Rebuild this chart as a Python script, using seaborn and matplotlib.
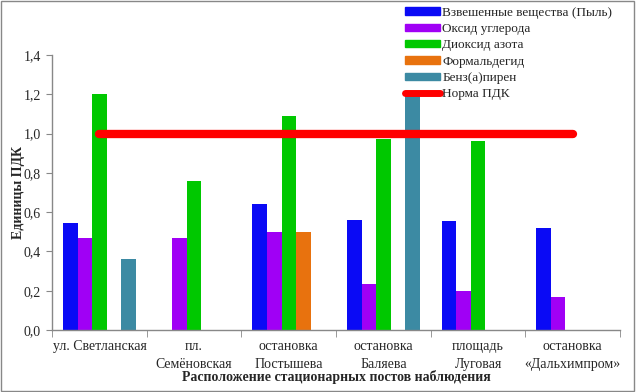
import numpy as np
import pandas as pd
import matplotlib
matplotlib.use("Agg")
import matplotlib.pyplot as plt
import seaborn as sns
from matplotlib.lines import Line2D
from matplotlib.patches import Rectangle

# data
stations = ["ул. Светланская", "пл.\nСемёновская", "остановка\nПостышева",
            "остановка\nБаляева", "площадь\nЛуговая", "остановка\n«Дальхимпром»"]
pollutants = ["Взвешенные вещества (Пыль)", "Оксид углерода", "Диоксид азота",
              "Формальдегид", "Бенз(а)пирен"]
dust = [0.545, np.nan, 0.64, 0.56, 0.555, 0.52]
co = [0.47, 0.47, 0.50, 0.235, 0.20, 0.17]
no2 = [1.20, 0.76, 1.09, 0.97, 0.96, np.nan]
formaldehyde = [np.nan, np.nan, 0.50, np.nan, np.nan, np.nan]
benzapyrene = [0.36, np.nan, np.nan, 1.21, np.nan, np.nan]
norm_pdk = [1.0] * len(stations)

colors = ["#0a0af5", "#a000f5", "#00c800", "#e8720e", "#3c8aa3"]

rows = []
for name, vals in zip(pollutants, [dust, co, no2, formaldehyde, benzapyrene]):
    for st, v in zip(stations, vals):
        rows.append({"station": st, "pollutant": name, "value": v})
df = pd.DataFrame(rows)

sns.set_style("white")
plt.rcParams["font.family"] = ["Liberation Serif", "DejaVu Serif"]

fig = plt.figure(figsize=(6.36, 3.92), dpi=100)
ax = fig.add_axes([0.082, 0.158, 0.893, 0.702])

sns.barplot(data=df, x="station", y="value", hue="pollutant", order=stations,
            hue_order=pollutants, palette=colors, width=0.77, errorbar=None,
            saturation=1, edgecolor="none", legend=False, ax=ax)

# norm line
ax.plot(range(len(stations)), norm_pdk, color="#ff0000", lw=6,
        solid_capstyle="round", zorder=5)

ax.set_xlim(-0.5, len(stations) - 0.5)
ax.set_ylim(0, 1.4)
ax.set_yticks(np.arange(0, 1.41, 0.2))
ax.set_yticklabels([f"{t:.1f}".replace(".", ",") for t in np.arange(0, 1.41, 0.2)],
                   fontsize=10)
ax.set_xticks(range(len(stations)))
ax.set_xticklabels(stations, fontsize=10, va="top", linespacing=1.55)
ax.set_xticks(np.arange(-0.5, len(stations), 1), minor=True)
ax.tick_params(axis="x", which="major", length=0, pad=7)
ax.tick_params(axis="x", which="minor", length=5, color="#888888", direction="out", bottom=True)
ax.tick_params(axis="y", length=4, color="#888888", direction="out", left=True, pad=4)

ax.set_xlabel("Расположение стационарных постов наблюдения", fontsize=10,
              fontweight="bold", labelpad=-1)
ax.set_ylabel("Единицы ПДК", fontsize=10, fontweight="bold", labelpad=-1)

sns.despine(ax=ax)
for s in ["left", "bottom"]:
    ax.spines[s].set_color("#888888")
    ax.spines[s].set_linewidth(1)

handles = [Rectangle((0, 0), 1, 1, color=c) for c in colors]
handles.append(Line2D([0], [0], color="#ff0000", lw=5, solid_capstyle="round"))
labels = pollutants + ["Норма ПДК"]
fig.legend(handles, labels, loc="upper left", bbox_to_anchor=(0.627, 1.0),
           frameon=False, fontsize=9.5, handlelength=2.6, handleheight=0.5,
           labelspacing=0.33, handletextpad=0.2, borderaxespad=0.1)

fig.patches.append(Rectangle((0.002, 0.003), 0.995, 0.994, transform=fig.transFigure,
                             fill=False, edgecolor="#888888", lw=1))

fig.savefig("out.png", dpi=100)
